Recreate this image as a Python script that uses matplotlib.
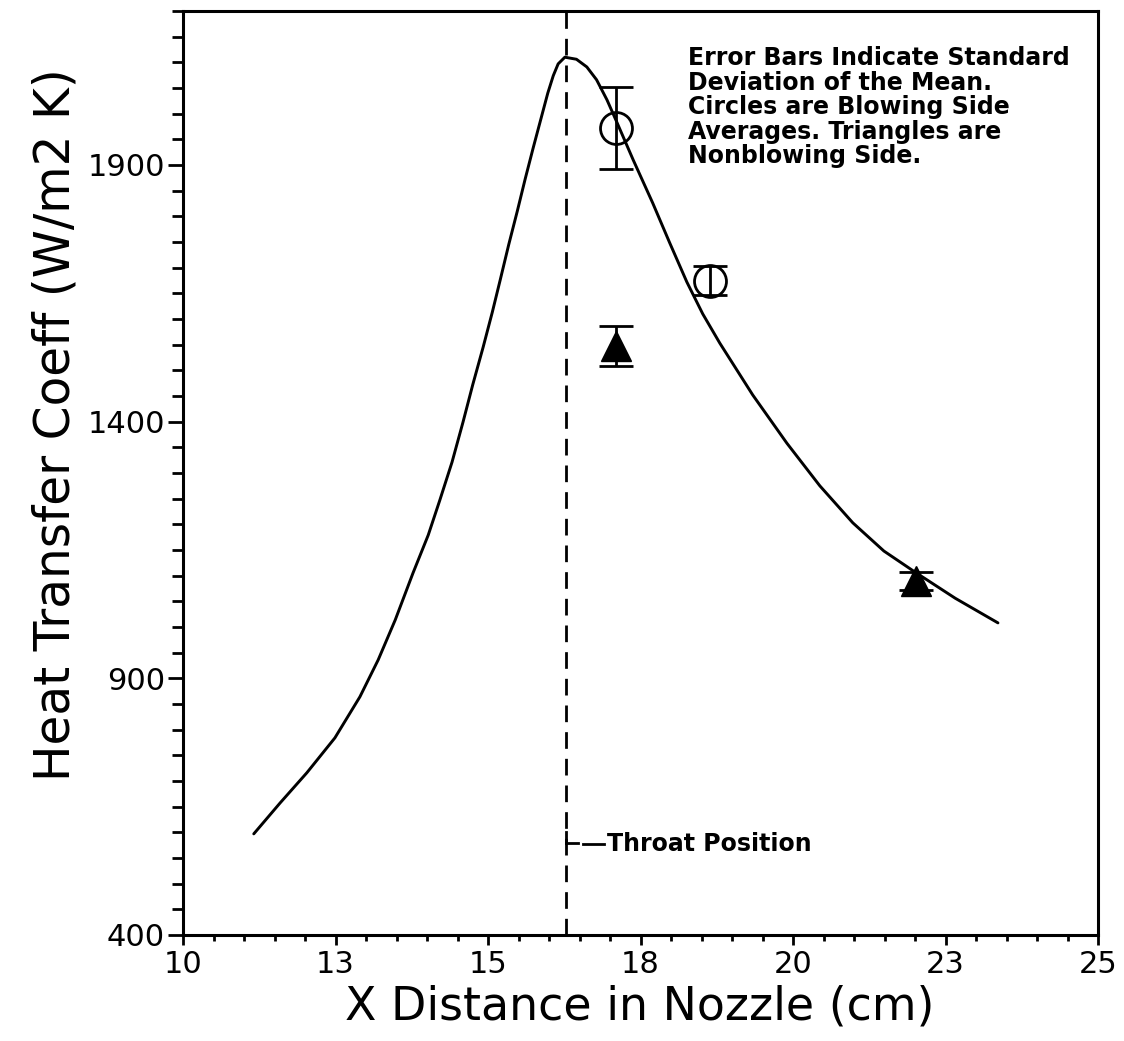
import matplotlib
matplotlib.use("Agg")
import matplotlib.pyplot as plt
from matplotlib.lines import Line2D
from matplotlib.ticker import MultipleLocator, FixedLocator, FixedFormatter

# ---- data ----
curve_x = [11.16, 11.59, 12.03, 12.49, 12.90, 13.20, 13.48, 13.77, 14.02, 14.21,
           14.41, 14.59, 14.75, 14.92, 15.07, 15.20, 15.34, 15.48, 15.61, 15.74,
           15.87, 15.98, 16.07, 16.15, 16.26, 16.45, 16.62, 16.78, 16.95, 17.11,
           17.38, 17.70, 17.98, 18.26, 18.52, 18.80, 19.34, 19.90, 20.44, 20.98,
           21.49, 22.00, 22.66, 23.36]
curve_y = [597, 657, 716, 784, 864, 936, 1014, 1105, 1179, 1247,
           1321, 1399, 1472, 1545, 1613, 1676, 1745, 1810, 1873, 1933,
           1991, 2040, 2074, 2097, 2110, 2106, 2091, 2066, 2027, 1984,
           1910, 1826, 1748, 1672, 1610, 1553, 1452, 1358, 1275, 1203,
           1148, 1107, 1056, 1008]

circle_x = [17.10, 18.64]
circle_y = [1972, 1675]
circle_err = [80, 29]

tri_x = [17.10, 22.01]
tri_y = [1547, 1090]
tri_err = [39, 17]

throat_x = 16.28

xtick_vals = [10, 12.5, 15, 17.5, 20, 22.5, 25]
xtick_labels = ["10", "13", "15", "18", "20", "23", "25"]
ytick_vals = [400, 900, 1400, 1900]

note_text = ("Error Bars Indicate Standard\nDeviation of the Mean.\n"
             "Circles are Blowing Side\nAverages. Triangles are\nNonblowing Side.")
throat_text = "Throat Position"

W, H = 1124, 1041

# ---- figure ----
fig = plt.figure(figsize=(W / 100, H / 100), dpi=100)
ax = fig.add_axes([183 / W, 1 - 935 / H, (1098 - 183) / W, (935 - 11) / H])

ax.set_xlim(10, 25)
ax.set_ylim(400, 2200)

ax.plot(curve_x, curve_y, color="black", lw=2.1, solid_capstyle="round",
        solid_joinstyle="round")

vl = ax.axvline(throat_x, color="black", lw=2.0)
vl.set_dashes([6, 3.6])

ax.errorbar(circle_x, circle_y, yerr=circle_err, fmt="o", mfc="none", mec="black",
            mew=2.0, ms=23, ecolor="black", elinewidth=2.0, capsize=12, capthick=2.0)
ax.errorbar(tri_x, tri_y, yerr=tri_err, fmt="^", mfc="black", mec="black",
            ms=21, ecolor="black", elinewidth=2.0, capsize=12, capthick=2.0)

fig.text(688 / W, 1 - 46 / H, note_text, ha="left", va="top",
         fontsize=17, fontweight="bold", family="DejaVu Sans", linespacing=1.03)

# "L--" pointer from the throat line to its label
def px(x, y):
    return x / W, 1 - y / H

for (x0, y0), (x1, y1) in [((566, 832), (566, 843)), ((566, 843), (578, 843)),
                           ((583, 844), (604, 844))]:
    a, b = px(x0, y0)
    c, d = px(x1, y1)
    fig.add_artist(Line2D([a, c], [b, d], color="black", lw=2.0,
                          transform=fig.transFigure))
fig.text(607 / W, 1 - 844 / H, throat_text, ha="left", va="center",
         fontsize=17, fontweight="bold", family="DejaVu Sans")

# ticks
ax.xaxis.set_major_locator(FixedLocator(xtick_vals))
ax.xaxis.set_major_formatter(FixedFormatter(xtick_labels))
ax.xaxis.set_minor_locator(MultipleLocator(0.5))
ax.yaxis.set_major_locator(FixedLocator(ytick_vals))
ax.yaxis.set_minor_locator(MultipleLocator(50))

ax.tick_params(axis="x", which="major", direction="out", length=7, width=2, labelsize=22, pad=4)
ax.tick_params(axis="x", which="minor", direction="out", length=4, width=2)
ax.tick_params(axis="y", which="major", direction="out", length=11, width=2, labelsize=22, pad=2)
ax.tick_params(axis="y", which="minor", direction="out", length=8, width=2)
ax.tick_params(top=False, right=False, which="both")

for s in ax.spines.values():
    s.set_linewidth(2.2)

ax.set_xlabel("X Distance in Nozzle (cm)", fontsize=33)
ax.set_ylabel("Heat Transfer Coeff (W/m2 K)", fontsize=35)
ax.xaxis.set_label_coords((640 - 183) / 915, (935 - 984) / 924)
ax.yaxis.set_label_coords((80 - 183) / 915, (935 - 425) / 924)

fig.savefig("out.png", dpi=100)
